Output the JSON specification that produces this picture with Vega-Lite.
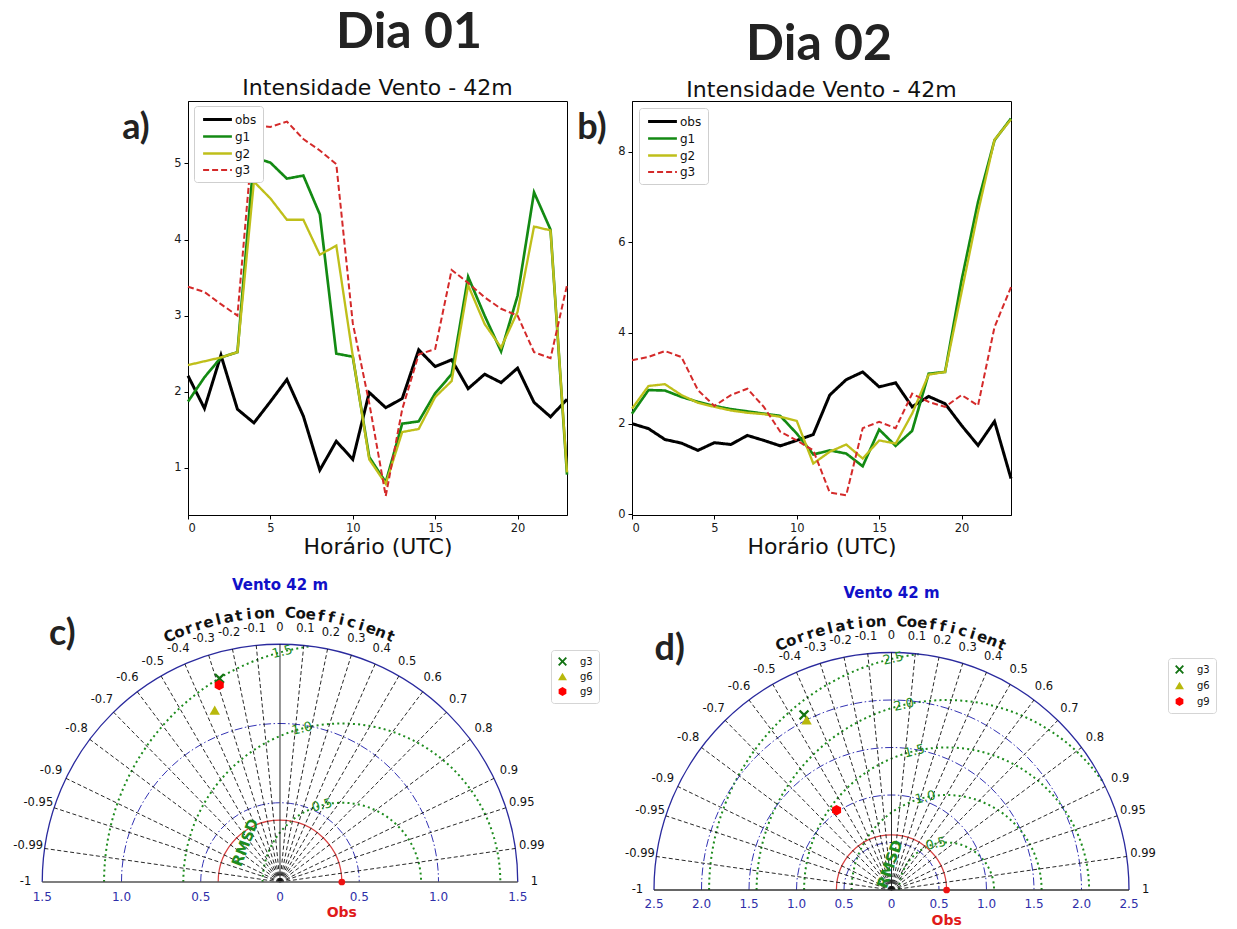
{
"$schema": "https://vega.github.io/schema/vega-lite/v6.json",
"padding": {"left": 13, "top": 7, "right": 0, "bottom": 0},
"background": "white",
"config": {
  "view": {"stroke": null},
  "font": "DejaVu Sans",
  "axis": {"labelFont": "DejaVu Sans", "labelFontSize": 11.5, "labelColor": "#1a1a1a", "tickColor": "#000000", "domainColor": "#000000", "tickSize": 4, "tickWidth": 1, "domainWidth": 1, "grid": false, "titleFont": "DejaVu Sans", "titleFontSize": 22, "titleFontWeight": "normal", "titleColor": "#111111", "labelPadding": 3, "titlePadding": 3},
  "legend": {"labelFont": "DejaVu Sans"}
},
"resolve": {
  "scale": {"color": "independent", "shape": "independent", "size": "independent", "strokeDash": "independent", "strokeWidth": "independent", "angle": "independent"},
  "legend": {"color": "independent", "shape": "independent", "size": "independent", "strokeDash": "independent", "strokeWidth": "independent"}
},
"columns": 2,
"spacing": {"row": 125, "column": 65},
"bounds": "flush",
"align": "each",
"datasets": {
  "dia1": [
    {"h": 0, "obs": 2.21, "g1": 1.87, "g2": 2.35, "g3": 3.38},
    {"h": 1, "obs": 1.78, "g1": 2.19, "g2": 2.40, "g3": 3.31},
    {"h": 2, "obs": 2.48, "g1": 2.45, "g2": 2.45, "g3": 3.15},
    {"h": 3, "obs": 1.77, "g1": 2.52, "g2": 2.52, "g3": 3.00},
    {"h": 4, "obs": 1.59, "g1": 5.08, "g2": 4.76, "g3": 5.50},
    {"h": 5, "obs": 1.87, "g1": 5.01, "g2": 4.54, "g3": 5.48},
    {"h": 6, "obs": 2.16, "g1": 4.80, "g2": 4.26, "g3": 5.55},
    {"h": 7, "obs": 1.68, "g1": 4.84, "g2": 4.26, "g3": 5.32},
    {"h": 8, "obs": 0.97, "g1": 4.33, "g2": 3.80, "g3": 5.17},
    {"h": 9, "obs": 1.35, "g1": 2.50, "g2": 3.92, "g3": 4.99},
    {"h": 10, "obs": 1.11, "g1": 2.46, "g2": 2.47, "g3": 2.90},
    {"h": 11, "obs": 1.99, "g1": 1.14, "g2": 1.11, "g3": 1.85},
    {"h": 12, "obs": 1.79, "g1": 0.81, "g2": 0.79, "g3": 0.63},
    {"h": 13, "obs": 1.91, "g1": 1.58, "g2": 1.47, "g3": 1.77},
    {"h": 14, "obs": 2.55, "g1": 1.61, "g2": 1.51, "g3": 2.49},
    {"h": 15, "obs": 2.33, "g1": 1.98, "g2": 1.93, "g3": 2.56},
    {"h": 16, "obs": 2.42, "g1": 2.23, "g2": 2.14, "g3": 3.60},
    {"h": 17, "obs": 2.04, "g1": 3.51, "g2": 3.40, "g3": 3.43},
    {"h": 18, "obs": 2.23, "g1": 3.00, "g2": 2.89, "g3": 3.24},
    {"h": 19, "obs": 2.12, "g1": 2.53, "g2": 2.58, "g3": 3.09},
    {"h": 20, "obs": 2.31, "g1": 3.26, "g2": 3.05, "g3": 3.00},
    {"h": 21, "obs": 1.86, "g1": 4.62, "g2": 4.17, "g3": 2.52},
    {"h": 22, "obs": 1.67, "g1": 4.13, "g2": 4.12, "g3": 2.44},
    {"h": 23, "obs": 1.90, "g1": 0.91, "g2": 0.94, "g3": 3.40}
  ],
  "dia2": [
    {"h": 0, "obs": 2.00, "g1": 2.22, "g2": 2.33, "g3": 3.40},
    {"h": 1, "obs": 1.89, "g1": 2.74, "g2": 2.83, "g3": 3.47},
    {"h": 2, "obs": 1.65, "g1": 2.73, "g2": 2.87, "g3": 3.60},
    {"h": 3, "obs": 1.57, "g1": 2.59, "g2": 2.63, "g3": 3.47},
    {"h": 4, "obs": 1.41, "g1": 2.48, "g2": 2.46, "g3": 2.74},
    {"h": 5, "obs": 1.58, "g1": 2.39, "g2": 2.37, "g3": 2.39},
    {"h": 6, "obs": 1.54, "g1": 2.32, "g2": 2.29, "g3": 2.63},
    {"h": 7, "obs": 1.74, "g1": 2.27, "g2": 2.24, "g3": 2.77},
    {"h": 8, "obs": 1.63, "g1": 2.22, "g2": 2.21, "g3": 2.37},
    {"h": 9, "obs": 1.51, "g1": 2.17, "g2": 2.15, "g3": 1.82},
    {"h": 10, "obs": 1.63, "g1": 1.78, "g2": 2.06, "g3": 1.63},
    {"h": 11, "obs": 1.76, "g1": 1.32, "g2": 1.12, "g3": 1.41},
    {"h": 12, "obs": 2.63, "g1": 1.41, "g2": 1.38, "g3": 0.48},
    {"h": 13, "obs": 2.97, "g1": 1.34, "g2": 1.54, "g3": 0.42},
    {"h": 14, "obs": 3.14, "g1": 1.06, "g2": 1.23, "g3": 1.90},
    {"h": 15, "obs": 2.81, "g1": 1.87, "g2": 1.63, "g3": 2.04},
    {"h": 16, "obs": 2.90, "g1": 1.51, "g2": 1.56, "g3": 1.90},
    {"h": 17, "obs": 2.37, "g1": 1.84, "g2": 2.22, "g3": 2.66},
    {"h": 18, "obs": 2.60, "g1": 3.10, "g2": 3.08, "g3": 2.48},
    {"h": 19, "obs": 2.44, "g1": 3.14, "g2": 3.14, "g3": 2.37},
    {"h": 20, "obs": 1.96, "g1": 5.16, "g2": 4.90, "g3": 2.63},
    {"h": 21, "obs": 1.52, "g1": 6.89, "g2": 6.67, "g3": 2.40},
    {"h": 22, "obs": 2.05, "g1": 8.25, "g2": 8.26, "g3": 4.13},
    {"h": 23, "obs": 0.79, "g1": 8.73, "g2": 8.71, "g3": 5.01}
  ],
  "corr": [
    {"c": -1, "t": "-1"}, {"c": -0.99, "t": "-0.99"}, {"c": -0.95, "t": "-0.95"}, {"c": -0.9, "t": "-0.9"},
    {"c": -0.8, "t": "-0.8"}, {"c": -0.7, "t": "-0.7"}, {"c": -0.6, "t": "-0.6"}, {"c": -0.5, "t": "-0.5"},
    {"c": -0.4, "t": "-0.4"}, {"c": -0.3, "t": "-0.3"}, {"c": -0.2, "t": "-0.2"}, {"c": -0.1, "t": "-0.1"},
    {"c": 0, "t": "0"}, {"c": 0.1, "t": "0.1"}, {"c": 0.2, "t": "0.2"}, {"c": 0.3, "t": "0.3"},
    {"c": 0.4, "t": "0.4"}, {"c": 0.5, "t": "0.5"}, {"c": 0.6, "t": "0.6"}, {"c": 0.7, "t": "0.7"},
    {"c": 0.8, "t": "0.8"}, {"c": 0.9, "t": "0.9"}, {"c": 0.95, "t": "0.95"}, {"c": 0.99, "t": "0.99"}, {"c": 1, "t": "1"}
  ],
  "cc": [
    {"i": 0, "ch": "C"}, {"i": 1, "ch": "o"}, {"i": 2, "ch": "r"}, {"i": 3, "ch": "r"}, {"i": 4, "ch": "e"},
    {"i": 5, "ch": "l"}, {"i": 6, "ch": "a"}, {"i": 7, "ch": "t"}, {"i": 8, "ch": "i"}, {"i": 9, "ch": "o"},
    {"i": 10, "ch": "n"}, {"i": 12, "ch": "C"}, {"i": 13, "ch": "o"}, {"i": 14, "ch": "e"}, {"i": 15, "ch": "f"},
    {"i": 16, "ch": "f"}, {"i": 17, "ch": "i"}, {"i": 18, "ch": "c"}, {"i": 19, "ch": "i"}, {"i": 20, "ch": "e"},
    {"i": 21, "ch": "n"}, {"i": 22, "ch": "t"}
  ]
},
"concat": [
 {
  "width": 379, "height": 414,
  "view": {"stroke": "#000000", "strokeWidth": 1},
  "layer": [
   {
    "data": {"name": "dia1"},
    "transform": [{"fold": ["obs", "g1", "g2", "g3"], "as": ["s", "v"]}],
    "mark": {"type": "line"},
    "encoding": {
     "x": {"field": "h", "type": "quantitative", "scale": {"domain": [0, 23], "nice": false, "zero": false}, "axis": {"values": [0, 5, 10, 15, 20], "format": "d", "title": "Horário (UTC)"}},
     "y": {"field": "v", "type": "quantitative", "scale": {"domain": [0.38, 5.82], "nice": false, "zero": false}, "axis": {"values": [1, 2, 3, 4, 5], "format": "d", "title": null}},
     "color": {"field": "s", "type": "nominal", "scale": {"domain": ["obs", "g1", "g2", "g3"], "range": ["#000000", "#138a13", "#bfbf1a", "#d42a2a"]},
       "legend": {"orient": "none", "legendX": 6, "legendY": 5, "title": null, "symbolType": "M -2.4 0 L 2.4 0", "symbolSize": 144, "symbolOffset": 10, "labelOffset": 10, "labelFontSize": 12, "labelColor": "#111111", "strokeColor": "#cfcfcf", "fillColor": "white", "padding": 6, "cornerRadius": 3, "rowPadding": 3}},
     "strokeDash": {"field": "s", "type": "nominal", "scale": {"domain": ["obs", "g1", "g2", "g3"], "range": [[1, 0], [1, 0], [1, 0], [6, 3]]},
       "legend": {"orient": "none", "legendX": 6, "legendY": 5, "title": null, "symbolType": "M -2.4 0 L 2.4 0", "symbolSize": 144, "symbolOffset": 10, "labelOffset": 10, "labelFontSize": 12, "labelColor": "#111111", "strokeColor": "#cfcfcf", "fillColor": "white", "padding": 6, "cornerRadius": 3, "rowPadding": 3}},
     "strokeWidth": {"field": "s", "type": "ordinal", "scale": {"domain": ["obs", "g1", "g2", "g3"], "range": [3, 2, 2, 2]},
       "legend": {"orient": "none", "legendX": 6, "legendY": 5, "title": null, "symbolType": "M -2.4 0 L 2.4 0", "symbolSize": 144, "symbolOffset": 10, "labelOffset": 10, "labelFontSize": 12, "labelColor": "#111111", "strokeColor": "#cfcfcf", "fillColor": "white", "padding": 6, "cornerRadius": 3, "rowPadding": 3}}
    }
   },
   {"data": {"values": [{}]}, "mark": {"type": "text", "text": "Intensidade Vento - 42m", "font": "DejaVu Sans", "fontSize": 22, "color": "#111111", "align": "center", "baseline": "alphabetic"},
    "encoding": {"x": {"datum": 11.5, "type": "quantitative"}, "y": {"datum": 5.899, "type": "quantitative"}}},
   {"data": {"values": [{}]}, "mark": {"type": "text", "text": "Dia 01", "font": "Lato", "fontSize": 50, "fontWeight": "bold", "color": "#222222", "align": "center", "baseline": "middle"},
    "encoding": {"x": {"datum": 13.41, "type": "quantitative"}, "y": {"datum": 6.714, "type": "quantitative"}}},
   {"data": {"values": [{}]}, "mark": {"type": "text", "text": "a)", "font": "Lato", "fontSize": 36, "fontWeight": "bold", "color": "#222222", "align": "center", "baseline": "middle"},
    "encoding": {"x": {"datum": -3.156, "type": "quantitative"}, "y": {"datum": 5.465, "type": "quantitative"}}}
  ]
 },
 {
  "width": 379, "height": 414,
  "view": {"stroke": "#000000", "strokeWidth": 1},
  "layer": [
   {
    "data": {"name": "dia2"},
    "transform": [{"fold": ["obs", "g1", "g2", "g3"], "as": ["s", "v"]}],
    "mark": {"type": "line"},
    "encoding": {
     "x": {"field": "h", "type": "quantitative", "scale": {"domain": [0, 23], "nice": false, "zero": false}, "axis": {"values": [0, 5, 10, 15, 20], "format": "d", "title": "Horário (UTC)"}},
     "y": {"field": "v", "type": "quantitative", "scale": {"domain": [-0.015, 9.115], "nice": false, "zero": false}, "axis": {"values": [0, 2, 4, 6, 8], "format": "d", "title": null}},
     "color": {"field": "s", "type": "nominal", "scale": {"domain": ["obs", "g1", "g2", "g3"], "range": ["#000000", "#138a13", "#bfbf1a", "#d42a2a"]},
       "legend": {"orient": "none", "legendX": 7, "legendY": 7, "title": null, "symbolType": "M -2.4 0 L 2.4 0", "symbolSize": 144, "symbolOffset": 10, "labelOffset": 10, "labelFontSize": 12, "labelColor": "#111111", "strokeColor": "#cfcfcf", "fillColor": "white", "padding": 6, "cornerRadius": 3, "rowPadding": 3}},
     "strokeDash": {"field": "s", "type": "nominal", "scale": {"domain": ["obs", "g1", "g2", "g3"], "range": [[1, 0], [1, 0], [1, 0], [6, 3]]},
       "legend": {"orient": "none", "legendX": 7, "legendY": 7, "title": null, "symbolType": "M -2.4 0 L 2.4 0", "symbolSize": 144, "symbolOffset": 10, "labelOffset": 10, "labelFontSize": 12, "labelColor": "#111111", "strokeColor": "#cfcfcf", "fillColor": "white", "padding": 6, "cornerRadius": 3, "rowPadding": 3}},
     "strokeWidth": {"field": "s", "type": "ordinal", "scale": {"domain": ["obs", "g1", "g2", "g3"], "range": [3, 2, 2, 2]},
       "legend": {"orient": "none", "legendX": 7, "legendY": 7, "title": null, "symbolType": "M -2.4 0 L 2.4 0", "symbolSize": 144, "symbolOffset": 10, "labelOffset": 10, "labelFontSize": 12, "labelColor": "#111111", "strokeColor": "#cfcfcf", "fillColor": "white", "padding": 6, "cornerRadius": 3, "rowPadding": 3}}
    }
   },
   {"data": {"values": [{}]}, "mark": {"type": "text", "text": "Intensidade Vento - 42m", "font": "DejaVu Sans", "fontSize": 22, "color": "#111111", "align": "center", "baseline": "alphabetic"},
    "encoding": {"x": {"datum": 11.5, "type": "quantitative"}, "y": {"datum": 9.203, "type": "quantitative"}}},
   {"data": {"values": [{}]}, "mark": {"type": "text", "text": "Dia 02", "font": "Lato", "fontSize": 50, "fontWeight": "bold", "color": "#222222", "align": "center", "baseline": "middle"},
    "encoding": {"x": {"datum": 11.35, "type": "quantitative"}, "y": {"datum": 10.35, "type": "quantitative"}}},
   {"data": {"values": [{}]}, "mark": {"type": "text", "text": "b)", "font": "Lato", "fontSize": 36, "fontWeight": "bold", "color": "#222222", "align": "center", "baseline": "middle"},
    "encoding": {"x": {"datum": -2.427, "type": "quantitative"}, "y": {"datum": 8.52, "type": "quantitative"}}}
  ]
 },
 {
  "width": 379, "height": 250,
  "layer": [
   {"data": {"values": [{"rho": 0.5}, {"rho": 1.0}]},
    "mark": {"type": "point", "shape": "M -1 0 A 1 1 0 0 1 1 0", "filled": false, "opacity": 1, "stroke": "#1e8c1e", "strokeWidth": 2, "strokeDash": [2, 3.2]},
    "encoding": {"x": {"datum": 0.39, "type": "quantitative", "scale": {"domain": [-0.5804, 1.8107], "nice": false, "zero": false}, "axis": null},
                 "y": {"datum": 0, "type": "quantitative", "scale": {"domain": [-0.0505, 1.5268], "nice": false, "zero": false}, "axis": null},
                 "size": {"field": "rho", "type": "quantitative", "scale": {"type": "pow", "exponent": 2, "domain": [0, 1.5], "range": [0, 226100], "nice": false, "zero": true}, "legend": null}}},
   {"data": {"values": [{"rho": 1.5}]},
    "mark": {"type": "point", "shape": "M -1 0 A 1 1 0 0 1 -0.130 -0.9915", "filled": false, "opacity": 1, "stroke": "#1e8c1e", "strokeWidth": 2, "strokeDash": [2, 3.2]},
    "encoding": {"x": {"datum": 0.39, "type": "quantitative", "axis": null}, "y": {"datum": 0, "type": "quantitative", "axis": null},
                 "size": {"field": "rho", "type": "quantitative", "legend": null}}},
   {"data": {"values": [{"r": 0.5}, {"r": 1.0}]},
    "mark": {"type": "point", "shape": "M -1 0 A 1 1 0 0 1 1 0", "filled": false, "opacity": 1, "stroke": "#3434b4", "strokeWidth": 1, "strokeDash": [8, 2.5, 1.5, 2.5]},
    "encoding": {"x": {"datum": 0, "type": "quantitative", "axis": null}, "y": {"datum": 0, "type": "quantitative", "axis": null},
                 "size": {"field": "r", "type": "quantitative", "legend": null}}},
   {"data": {"values": [{"r": 1.5}]},
    "mark": {"type": "point", "shape": "M -1 0 A 1 1 0 0 1 1 0", "filled": false, "opacity": 1, "stroke": "#2a2a9e", "strokeWidth": 1.3},
    "encoding": {"x": {"datum": 0, "type": "quantitative", "axis": null}, "y": {"datum": 0, "type": "quantitative", "axis": null},
                 "size": {"field": "r", "type": "quantitative", "legend": null}}},
   {"data": {"values": [{"r": 0.39}]},
    "mark": {"type": "point", "shape": "M -1 0 A 1 1 0 0 1 1 0", "filled": false, "opacity": 1, "stroke": "#d84040", "strokeWidth": 1.2},
    "encoding": {"x": {"datum": 0, "type": "quantitative", "axis": null}, "y": {"datum": 0, "type": "quantitative", "axis": null},
                 "size": {"field": "r", "type": "quantitative", "legend": null}}},
   {"data": {"name": "corr"},
    "transform": [{"filter": "abs(datum.c) < 1"}, {"calculate": "0", "as": "x0"}, {"calculate": "0", "as": "y0"}, {"calculate": "1.5*datum.c", "as": "lx"}, {"calculate": "1.5*sqrt(1-datum.c*datum.c)", "as": "ly"}],
    "mark": {"type": "rule", "strokeWidth": 0.9},
    "encoding": {"x": {"field": "x0", "type": "quantitative", "axis": null}, "y": {"field": "y0", "type": "quantitative", "axis": null}, "x2": {"field": "lx"}, "y2": {"field": "ly"},
      "color": {"value": "#111111"},
      "strokeDash": {"condition": {"test": "datum.c == 0", "value": [1, 0]}, "value": [4, 2.5]}}},
   {"data": {"values": [{"a": -1.5, "b": 1.5}]}, "transform": [{"calculate": "0", "as": "y0"}], "mark": {"type": "rule", "color": "#555555", "strokeWidth": 1.3},
    "encoding": {"x": {"field": "a", "type": "quantitative", "axis": null}, "x2": {"field": "b"}, "y": {"field": "y0", "type": "quantitative", "axis": null}}},
   {"data": {"values": [{"m": "g3", "sd": 1.34, "r": -0.285}, {"m": "g6", "sd": 1.16, "r": -0.355}, {"m": "g9", "sd": 1.30, "r": -0.295}]},
    "transform": [{"calculate": "datum.sd*datum.r", "as": "px"}, {"calculate": "datum.sd*sqrt(1-datum.r*datum.r)", "as": "py"}],
    "mark": {"type": "point", "filled": true, "opacity": 1, "size": 110, "strokeWidth": 0},
    "encoding": {"x": {"field": "px", "type": "quantitative", "axis": null}, "y": {"field": "py", "type": "quantitative", "axis": null},
      "color": {"field": "m", "type": "nominal", "scale": {"domain": ["g3", "g6", "g9"], "range": ["#137313", "#b8b80c", "#ff0000"]},
        "legend": {"orient": "none", "legendX": 363, "legendY": 10, "title": null, "labelFontSize": 10, "symbolSize": 80, "padding": 6, "rowPadding": 4, "labelOffset": 12, "strokeColor": "#d5d5d5", "cornerRadius": 3, "fillColor": "white", "labelColor": "#111111"}},
      "shape": {"field": "m", "type": "nominal", "scale": {"domain": ["g3", "g6", "g9"], "range": ["M -0.7 -1 L 0 -0.3 L 0.7 -1 L 1 -0.7 L 0.3 0 L 1 0.7 L 0.7 1 L 0 0.3 L -0.7 1 L -1 0.7 L -0.3 0 L -1 -0.7 Z", "triangle-up", "M 0 -1 L 0.866 -0.5 L 0.866 0.5 L 0 1 L -0.866 0.5 L -0.866 -0.5 Z"]},
        "legend": {"orient": "none", "legendX": 363, "legendY": 10, "title": null, "labelFontSize": 10, "symbolSize": 80, "padding": 6, "rowPadding": 4, "labelOffset": 12, "strokeColor": "#d5d5d5", "cornerRadius": 3, "fillColor": "white", "labelColor": "#111111"}}}},
   {"data": {"values": [{"sd": 0.39}]}, "mark": {"type": "point", "filled": true, "opacity": 1, "size": 45, "shape": "circle", "color": "#ee1111"},
    "encoding": {"x": {"field": "sd", "type": "quantitative", "axis": null}, "y": {"datum": 0, "type": "quantitative", "axis": null}}},
   {"data": {"name": "corr"},
    "transform": [{"calculate": "1.605*datum.c", "as": "tx"}, {"calculate": "1.605*sqrt(1-datum.c*datum.c)", "as": "ty"}],
    "mark": {"type": "text", "fontSize": 11.5, "color": "#111111", "align": "center", "baseline": "middle"},
    "encoding": {"x": {"field": "tx", "type": "quantitative", "axis": null}, "y": {"field": "ty", "type": "quantitative", "axis": null}, "text": {"field": "t"}}},
   {"data": {"name": "cc"},
    "transform": [{"calculate": "(114.2 - 2.2*datum.i)*PI/180", "as": "a"}, {"calculate": "1.70*cos(datum.a)", "as": "lx"}, {"calculate": "1.70*sin(datum.a)", "as": "ly"}],
    "mark": {"type": "text", "fontSize": 15, "fontWeight": "bold", "color": "#111111", "align": "center", "baseline": "middle"},
    "encoding": {"x": {"field": "lx", "type": "quantitative", "axis": null}, "y": {"field": "ly", "type": "quantitative", "axis": null},
      "angle": {"field": "i", "type": "quantitative", "scale": {"domain": [0, 22], "range": [-24.2, 24.2]}},
      "text": {"field": "ch"}}},
   {"data": {"values": [{"v": -1.5, "t": "1.5"}, {"v": -1.0, "t": "1.0"}, {"v": -0.5, "t": "0.5"}, {"v": 0, "t": "0"}, {"v": 0.5, "t": "0.5"}, {"v": 1.0, "t": "1.0"}, {"v": 1.5, "t": "1.5"}]},
    "mark": {"type": "text", "fontSize": 12, "color": "#2e2ea8", "align": "center", "baseline": "middle", "dy": 15},
    "encoding": {"x": {"field": "v", "type": "quantitative", "axis": null}, "y": {"datum": 0, "type": "quantitative", "axis": null}, "text": {"field": "t"}}},
   {"data": {"values": [{}]}, "mark": {"type": "text", "text": "Obs", "fontSize": 14, "fontWeight": "bold", "color": "#e01a1a", "align": "center", "baseline": "middle", "dy": 31},
    "encoding": {"x": {"datum": 0.39, "type": "quantitative", "axis": null}, "y": {"datum": 0, "type": "quantitative", "axis": null}}},
   {"data": {"values": [{}]}, "mark": {"type": "text", "text": "Vento 42 m", "fontSize": 15, "fontWeight": "bold", "color": "#1010c8", "align": "center", "baseline": "middle"},
    "encoding": {"x": {"datum": 0, "type": "quantitative", "axis": null}, "y": {"datum": 1.874, "type": "quantitative", "axis": null}}},
   {"data": {"values": [{"rho": 0.5, "t": "0.5"}, {"rho": 1.0, "t": "1.0"}, {"rho": 1.5, "t": "1.5"}]},
    "transform": [{"calculate": "0.39 + datum.rho*cos(104.5*PI/180)", "as": "lx"}, {"calculate": "datum.rho*sin(104.5*PI/180)", "as": "ly"}],
    "mark": {"type": "text", "fontSize": 13, "color": "#1e8c1e", "align": "center", "baseline": "middle", "angle": 345.5},
    "encoding": {"x": {"field": "lx", "type": "quantitative", "axis": null}, "y": {"field": "ly", "type": "quantitative", "axis": null}, "text": {"field": "t"}}},
   {"data": {"values": [{}]}, "mark": {"type": "text", "text": "RMSD", "fontSize": 15, "fontWeight": "bold", "color": "#1e8c1e", "align": "center", "baseline": "middle", "angle": 291},
    "encoding": {"x": {"datum": -0.2193, "type": "quantitative", "axis": null}, "y": {"datum": 0.2486, "type": "quantitative", "axis": null}}},
   {"data": {"values": [{}]}, "mark": {"type": "text", "text": "c)", "font": "Lato", "fontSize": 36, "fontWeight": "bold", "color": "#222222", "align": "center", "baseline": "middle"},
    "encoding": {"x": {"datum": -1.373, "type": "quantitative", "axis": null}, "y": {"datum": 1.567, "type": "quantitative", "axis": null}}}
  ]
 },
 {
  "width": 379, "height": 250,
  "layer": [
   {"data": {"values": [{"rho": 0.5}, {"rho": 1.0}, {"rho": 1.5}]},
    "mark": {"type": "point", "shape": "M -1 0 A 1 1 0 0 1 1 0", "filled": false, "opacity": 1, "stroke": "#1e8c1e", "strokeWidth": 2, "strokeDash": [2, 3.2]},
    "encoding": {"x": {"datum": 0.58, "type": "quantitative", "scale": {"domain": [-2.7316, 1.2579], "nice": false, "zero": false}, "axis": null},
                 "y": {"datum": 0, "type": "quantitative", "scale": {"domain": [0, 2.6316], "nice": false, "zero": false}, "axis": null},
                 "size": {"field": "rho", "type": "quantitative", "scale": {"type": "pow", "exponent": 2, "domain": [0, 2.5], "range": [0, 225625], "nice": false, "zero": true}, "legend": null}}},
   {"data": {"values": [{"rho": 2.0}]},
    "mark": {"type": "point", "shape": "M -1 0 A 1 1 0 0 1 0.8248 -0.5653", "filled": false, "opacity": 1, "stroke": "#1e8c1e", "strokeWidth": 2, "strokeDash": [2, 3.2]},
    "encoding": {"x": {"datum": 0.58, "type": "quantitative", "axis": null}, "y": {"datum": 0, "type": "quantitative", "axis": null},
                 "size": {"field": "rho", "type": "quantitative", "legend": null}}},
   {"data": {"values": [{"rho": 2.5}]},
    "mark": {"type": "point", "shape": "M -1 0 A 1 1 0 0 1 -0.116 -0.9932", "filled": false, "opacity": 1, "stroke": "#1e8c1e", "strokeWidth": 2, "strokeDash": [2, 3.2]},
    "encoding": {"x": {"datum": 0.58, "type": "quantitative", "axis": null}, "y": {"datum": 0, "type": "quantitative", "axis": null},
                 "size": {"field": "rho", "type": "quantitative", "legend": null}}},
   {"data": {"values": [{"r": 0.5}, {"r": 1.0}, {"r": 1.5}, {"r": 2.0}]},
    "mark": {"type": "point", "shape": "M -1 0 A 1 1 0 0 1 1 0", "filled": false, "opacity": 1, "stroke": "#3434b4", "strokeWidth": 1, "strokeDash": [8, 2.5, 1.5, 2.5]},
    "encoding": {"x": {"datum": 0, "type": "quantitative", "axis": null}, "y": {"datum": 0, "type": "quantitative", "axis": null},
                 "size": {"field": "r", "type": "quantitative", "legend": null}}},
   {"data": {"values": [{"r": 2.5}]},
    "mark": {"type": "point", "shape": "M -1 0 A 1 1 0 0 1 1 0", "filled": false, "opacity": 1, "stroke": "#2a2a9e", "strokeWidth": 1.3},
    "encoding": {"x": {"datum": 0, "type": "quantitative", "axis": null}, "y": {"datum": 0, "type": "quantitative", "axis": null},
                 "size": {"field": "r", "type": "quantitative", "legend": null}}},
   {"data": {"values": [{"r": 0.58}]},
    "mark": {"type": "point", "shape": "M -1 0 A 1 1 0 0 1 1 0", "filled": false, "opacity": 1, "stroke": "#d84040", "strokeWidth": 1.2},
    "encoding": {"x": {"datum": 0, "type": "quantitative", "axis": null}, "y": {"datum": 0, "type": "quantitative", "axis": null},
                 "size": {"field": "r", "type": "quantitative", "legend": null}}},
   {"data": {"name": "corr"},
    "transform": [{"filter": "abs(datum.c) < 1"}, {"calculate": "0", "as": "x0"}, {"calculate": "0", "as": "y0"}, {"calculate": "2.5*datum.c", "as": "lx"}, {"calculate": "2.5*sqrt(1-datum.c*datum.c)", "as": "ly"}],
    "mark": {"type": "rule", "strokeWidth": 0.9},
    "encoding": {"x": {"field": "x0", "type": "quantitative", "axis": null}, "y": {"field": "y0", "type": "quantitative", "axis": null}, "x2": {"field": "lx"}, "y2": {"field": "ly"},
      "color": {"value": "#111111"},
      "strokeDash": {"condition": {"test": "datum.c == 0", "value": [1, 0]}, "value": [4, 2.5]}}},
   {"data": {"values": [{"a": -2.5, "b": 2.5}]}, "transform": [{"calculate": "0", "as": "y0"}], "mark": {"type": "rule", "color": "#333333", "strokeWidth": 1.3},
    "encoding": {"x": {"field": "a", "type": "quantitative", "axis": null}, "x2": {"field": "b"}, "y": {"field": "y0", "type": "quantitative", "axis": null}}},
   {"data": {"values": [{"m": "g3", "sd": 2.06, "r": -0.447}, {"m": "g6", "sd": 2.00, "r": -0.447}, {"m": "g9", "sd": 1.02, "r": -0.567}]},
    "transform": [{"calculate": "datum.sd*datum.r", "as": "px"}, {"calculate": "datum.sd*sqrt(1-datum.r*datum.r)", "as": "py"}],
    "mark": {"type": "point", "filled": true, "opacity": 1, "size": 110, "strokeWidth": 0},
    "encoding": {"x": {"field": "px", "type": "quantitative", "axis": null}, "y": {"field": "py", "type": "quantitative", "axis": null},
      "color": {"field": "m", "type": "nominal", "scale": {"domain": ["g3", "g6", "g9"], "range": ["#137313", "#b8b80c", "#ff0000"]},
        "legend": {"orient": "none", "legendX": 536, "legendY": 18, "title": null, "labelFontSize": 10, "symbolSize": 80, "padding": 6, "rowPadding": 5, "labelOffset": 12, "strokeColor": "#d5d5d5", "cornerRadius": 3, "fillColor": "white", "labelColor": "#111111"}},
      "shape": {"field": "m", "type": "nominal", "scale": {"domain": ["g3", "g6", "g9"], "range": ["M -0.7 -1 L 0 -0.3 L 0.7 -1 L 1 -0.7 L 0.3 0 L 1 0.7 L 0.7 1 L 0 0.3 L -0.7 1 L -1 0.7 L -0.3 0 L -1 -0.7 Z", "triangle-up", "M 0 -1 L 0.866 -0.5 L 0.866 0.5 L 0 1 L -0.866 0.5 L -0.866 -0.5 Z"]},
        "legend": {"orient": "none", "legendX": 536, "legendY": 18, "title": null, "labelFontSize": 10, "symbolSize": 80, "padding": 6, "rowPadding": 5, "labelOffset": 12, "strokeColor": "#d5d5d5", "cornerRadius": 3, "fillColor": "white", "labelColor": "#111111"}}}},
   {"data": {"values": [{"sd": 0.58}]}, "mark": {"type": "point", "filled": true, "opacity": 1, "size": 45, "shape": "circle", "color": "#ee1111"},
    "encoding": {"x": {"field": "sd", "type": "quantitative", "axis": null}, "y": {"datum": 0, "type": "quantitative", "axis": null}}},
   {"data": {"name": "corr"},
    "transform": [{"calculate": "2.675*datum.c", "as": "tx"}, {"calculate": "2.675*sqrt(1-datum.c*datum.c)", "as": "ty"}],
    "mark": {"type": "text", "fontSize": 11.5, "color": "#111111", "align": "center", "baseline": "middle"},
    "encoding": {"x": {"field": "tx", "type": "quantitative", "axis": null}, "y": {"field": "ty", "type": "quantitative", "axis": null}, "text": {"field": "t"}}},
   {"data": {"name": "cc"},
    "transform": [{"calculate": "(114.2 - 2.2*datum.i)*PI/180", "as": "a"}, {"calculate": "2.83*cos(datum.a)", "as": "lx"}, {"calculate": "2.83*sin(datum.a)", "as": "ly"}],
    "mark": {"type": "text", "fontSize": 15, "fontWeight": "bold", "color": "#111111", "align": "center", "baseline": "middle"},
    "encoding": {"x": {"field": "lx", "type": "quantitative", "axis": null}, "y": {"field": "ly", "type": "quantitative", "axis": null},
      "angle": {"field": "i", "type": "quantitative", "scale": {"domain": [0, 22], "range": [-24.2, 24.2]}},
      "text": {"field": "ch"}}},
   {"data": {"values": [{"v": -2.5, "t": "2.5"}, {"v": -2.0, "t": "2.0"}, {"v": -1.5, "t": "1.5"}, {"v": -1.0, "t": "1.0"}, {"v": -0.5, "t": "0.5"}, {"v": 0, "t": "0"}, {"v": 0.5, "t": "0.5"}, {"v": 1.0, "t": "1.0"}, {"v": 1.5, "t": "1.5"}, {"v": 2.0, "t": "2.0"}, {"v": 2.5, "t": "2.5"}]},
    "mark": {"type": "text", "fontSize": 12, "color": "#2e2ea8", "align": "center", "baseline": "middle", "dy": 14},
    "encoding": {"x": {"field": "v", "type": "quantitative", "axis": null}, "y": {"datum": 0, "type": "quantitative", "axis": null}, "text": {"field": "t"}}},
   {"data": {"values": [{}]}, "mark": {"type": "text", "text": "Obs", "fontSize": 14, "fontWeight": "bold", "color": "#e01a1a", "align": "center", "baseline": "middle", "dy": 31},
    "encoding": {"x": {"datum": 0.58, "type": "quantitative", "axis": null}, "y": {"datum": 0, "type": "quantitative", "axis": null}}},
   {"data": {"values": [{}]}, "mark": {"type": "text", "text": "Vento 42 m", "fontSize": 15, "fontWeight": "bold", "color": "#1010c8", "align": "center", "baseline": "middle"},
    "encoding": {"x": {"datum": 0, "type": "quantitative", "axis": null}, "y": {"datum": 3.122, "type": "quantitative", "axis": null}}},
   {"data": {"values": [{"rho": 0.5, "t": "0.5"}, {"rho": 1.0, "t": "1.0"}, {"rho": 1.5, "t": "1.5"}, {"rho": 2.0, "t": "2.0"}, {"rho": 2.5, "t": "2.5"}]},
    "transform": [{"calculate": "0.58 + datum.rho*cos(103*PI/180)", "as": "lx"}, {"calculate": "datum.rho*sin(103*PI/180)", "as": "ly"}],
    "mark": {"type": "text", "fontSize": 13, "color": "#1e8c1e", "align": "center", "baseline": "middle", "angle": 347},
    "encoding": {"x": {"field": "lx", "type": "quantitative", "axis": null}, "y": {"field": "ly", "type": "quantitative", "axis": null}, "text": {"field": "t"}}},
   {"data": {"values": [{}]}, "mark": {"type": "text", "text": "RMSD", "fontSize": 15, "fontWeight": "bold", "color": "#1e8c1e", "align": "center", "baseline": "middle", "angle": 289},
    "encoding": {"x": {"datum": -0.0173, "type": "quantitative", "axis": null}, "y": {"datum": 0.2735, "type": "quantitative", "axis": null}}},
   {"data": {"values": [{}]}, "mark": {"type": "text", "text": "d)", "font": "Lato", "fontSize": 36, "fontWeight": "bold", "color": "#222222", "align": "center", "baseline": "middle"},
    "encoding": {"x": {"datum": -2.335, "type": "quantitative", "axis": null}, "y": {"datum": 2.542, "type": "quantitative", "axis": null}}}
  ]
 }
]
}
